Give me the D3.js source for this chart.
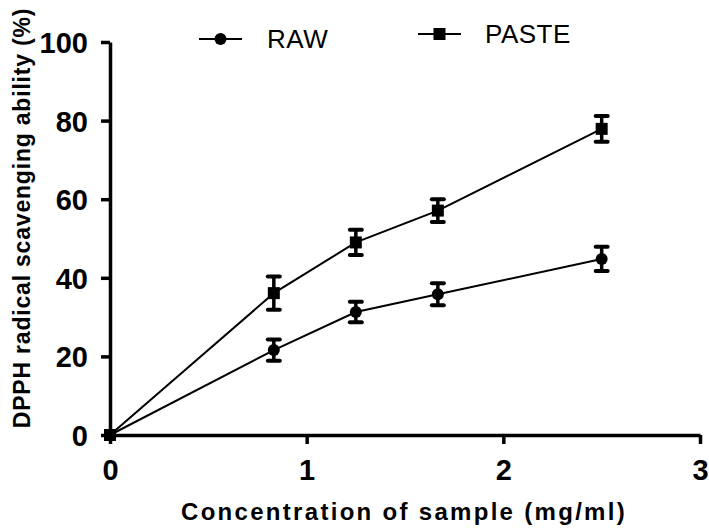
<!DOCTYPE html>
<html><head><meta charset="utf-8">
<script src="https://cdn.jsdelivr.net/npm/d3@7"></script>
<style>body{margin:0;background:#fff}svg{display:block}text{font-family:"Liberation Sans",Arial,sans-serif}</style>
</head><body>
<svg id="c" width="709" height="528"></svg>
<script>
const concentrations = [0, 0.833, 1.25, 1.667, 2.5];
const rawMean = [0, 21.6, 31.3, 35.8, 44.8];
const rawErr = [0, 2.7, 2.6, 2.8, 3.1];
const pasteMean = [0, 36.1, 49.0, 57.1, 77.9];
const pasteErr = [0, 4.2, 3.2, 2.9, 3.3];
const xTicks = [0, 1, 2, 3];
const yTicks = [0, 20, 40, 60, 80, 100];
const seriesNames = ["RAW", "PASTE"];

const svg = d3.select("#c");
const x = d3.scaleLinear().domain([0, 3]).range([110, 700]);
const y = d3.scaleLinear().domain([0, 100]).range([435, 42]);

// axes
const xAxis = svg.append("g").attr("transform", "translate(0,435)")
  .call(d3.axisBottom(x).tickValues(xTicks).tickFormat(d3.format("d")).tickSize(9).tickSizeOuter(0));
const yAxis = svg.append("g").attr("transform", "translate(110,0)")
  .call(d3.axisLeft(y).tickValues(yTicks).tickFormat(d3.format("d")).tickSize(9).tickSizeOuter(0));
[xAxis, yAxis].forEach(a => {
  a.select(".domain").attr("stroke", "#000").attr("stroke-width", 3.5);
  a.selectAll(".tick line").attr("stroke", "#000").attr("stroke-width", 3.5);
  a.selectAll(".tick text").attr("fill", "#000").style("font-size", "29px").style("font-weight", "bold");
});
xAxis.selectAll(".tick text").attr("dy", "0").attr("y", 45);
yAxis.selectAll(".tick text").attr("x", -22).attr("dy", "0.36em");

// axis titles
svg.append("text").attr("x", 404).attr("y", 520).attr("text-anchor", "middle")
  .style("font-size", "24px").style("font-weight", "bold").style("letter-spacing", "2.3px")
  .text("Concentration of sample (mg/ml)");
svg.append("text").attr("transform", "translate(30,218) rotate(-90)").attr("text-anchor", "middle")
  .style("font-size", "23px").style("font-weight", "bold").style("letter-spacing", "0.8px")
  .text("DPPH radical scavenging ability (%)");

const series = [
  {name: seriesNames[0], mean: rawMean, err: rawErr, shape: "circle"},
  {name: seriesNames[1], mean: pasteMean, err: pasteErr, shape: "square"}
];
const line = d3.line().x(d => x(d[0])).y(d => y(d[1]));

function marker(g, shape, cx, cy) {
  if (shape === "circle") g.append("circle").attr("cx", cx).attr("cy", cy).attr("r", 6).attr("fill", "#000");
  else g.append("rect").attr("x", cx - 6).attr("y", cy - 6).attr("width", 12).attr("height", 12).attr("fill", "#000");
}

series.forEach(s => {
  const pts = concentrations.map((c, i) => [c, s.mean[i], s.err[i]]);
  const g = svg.append("g");
  g.append("path").attr("d", line(pts)).attr("fill", "none").attr("stroke", "#000").attr("stroke-width", 2);
  pts.forEach(p => {
    if (p[2] > 0) {
      const cx = x(p[0]), y1 = y(p[1] + p[2]), y2 = y(p[1] - p[2]);
      g.append("line").attr("x1", cx).attr("x2", cx).attr("y1", y1).attr("y2", y2).attr("stroke", "#000").attr("stroke-width", 3.5);
      [y1, y2].forEach(yy => g.append("line").attr("x1", cx - 6).attr("x2", cx + 6).attr("y1", yy).attr("y2", yy)
        .attr("stroke", "#000").attr("stroke-width", 4).attr("stroke-linecap", "round"));
    }
    marker(g, s.shape, x(p[0]), y(p[1]));
  });
});

// legend
const legendPos = [{lx: 199, ly: 39, tx: 267, ty: 48}, {lx: 418, ly: 34, tx: 485, ty: 43}];
series.forEach((s, i) => {
  const L = legendPos[i];
  const g = svg.append("g");
  g.append("line").attr("x1", L.lx).attr("x2", L.lx + 43).attr("y1", L.ly).attr("y2", L.ly).attr("stroke", "#000").attr("stroke-width", 2);
  marker(g, s.shape, L.lx + 21.5, L.ly);
  g.append("text").attr("x", L.tx).attr("y", L.ty).style("font-size", "26px").style("letter-spacing", "0.5px").text(s.name);
});
</script>
</body></html>
